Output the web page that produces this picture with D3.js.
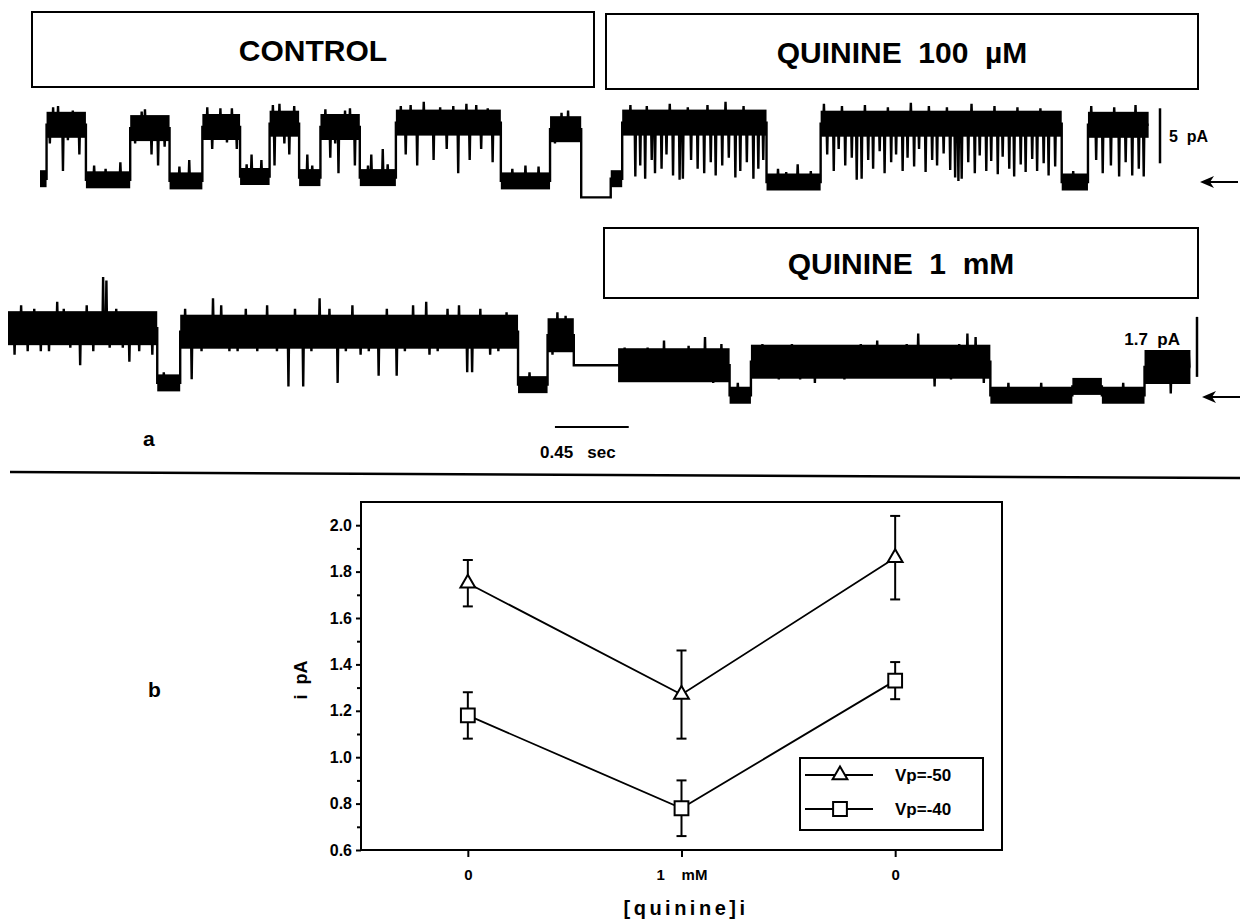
<!DOCTYPE html>
<html>
<head>
<meta charset="utf-8">
<script src="https://cdn.jsdelivr.net/npm/d3@7/dist/d3.min.js"></script>
<style>
body{margin:0;background:#fff;}
text{font-family:"Liberation Sans",Arial,Helvetica,sans-serif;font-weight:bold;fill:#000;}
</style>
</head>
<body>
<div id="fig"></div>
<script>
// ---- panel a : single channel records ----
// dwells: [start s, end s, level pA, state]  (o = open, c = closed, f = held / no noise)
const dwells1 = [
  [0.00,0.04,0.3,"c"],[0.04,0.28,5.2,"o"],[0.28,0.55,0.2,"c"],[0.55,0.79,4.9,"o"],
  [0.79,0.99,0.1,"c"],[0.99,1.22,5.0,"o"],[1.22,1.40,0.5,"c"],[1.40,1.58,5.3,"o"],
  [1.58,1.71,0.4,"c"],[1.71,1.95,5.0,"o"],[1.95,2.17,0.4,"c"],[2.17,2.81,5.4,"o"],
  [2.81,3.11,0.1,"c"],[3.11,3.30,4.8,"o"],[3.30,3.48,-1.4,"f"],[3.48,3.55,0.3,"c"],
  [3.55,4.43,5.4,"o"],[4.43,4.76,0.0,"c"],[4.76,6.23,5.3,"o"],[6.23,6.39,0.0,"c"],
  [6.39,6.76,5.2,"o"]
];
// brief events inside a dwell: [time s, peak pA]
const flicks1 = [
  [0.06,3.5],[0.08,6.8],[0.11,6.9],[0.14,1.0],[0.17,3.8],[0.20,6.5],[0.24,2.5],[0.33,1.5],
  [0.40,1.2],[0.49,1.8],[0.58,3.5],[0.62,6.4],[0.64,6.6],[0.68,2.5],[0.72,1.5],[0.76,3.2],
  [0.85,1.4],[0.91,2.0],[1.02,6.8],[1.05,3.0],[1.10,6.7],[1.14,3.6],[1.17,6.7],[1.20,3.0],
  [1.26,1.6],[1.29,2.5],[1.35,2.0],[1.42,7.0],[1.43,1.5],[1.46,7.1],[1.49,3.5],[1.52,2.5],
  [1.55,6.9],[1.63,2.5],[1.66,1.5],[1.74,6.6],[1.77,2.2],[1.80,3.5],[1.82,0.8],[1.86,6.5],
  [1.89,6.7],[1.92,1.5],[2.00,1.5],[2.02,2.5],[2.09,3.0],[2.12,1.6],[2.20,6.9],[2.23,2.5],
  [2.26,7.0],[2.30,1.5],[2.34,7.3],[2.40,2.0],[2.44,6.8],[2.48,3.0],[2.52,6.9],[2.55,0.8],
  [2.60,7.1],[2.62,2.0],[2.66,7.0],[2.69,3.0],[2.73,6.7],[2.76,1.8],[2.88,1.2],[2.96,1.5],
  [3.04,1.4],[3.14,3.5],[3.18,6.3],[3.22,6.5],[3.26,3.8],[3.51,1.0],
  [3.60,7.0],[3.63,0.5],[3.66,1.5],[3.69,0.3],[3.70,6.9],[3.73,2.0],[3.75,0.8],[3.79,1.2],
  [3.82,2.5],[3.84,7.1],[3.86,0.6],[3.90,0.2],[3.92,0.3],[3.95,6.8],[3.97,2.0],[4.01,1.2],
  [4.05,0.8],[4.07,7.0],[4.09,1.8],[4.12,0.6],[4.16,1.5],[4.18,7.3],[4.20,2.2],[4.24,0.4],
  [4.27,1.0],[4.29,6.9],[4.31,1.8],[4.35,0.3],[4.38,1.2],[4.41,2.0],[4.50,1.2],[4.55,0.9],
  [4.62,1.6],[4.70,1.0],[4.78,7.1],[4.80,2.5],[4.84,1.0],[4.87,3.0],[4.89,6.9],[4.91,1.5],
  [4.95,2.2],[4.98,0.2],[5.01,0.3],[5.03,7.0],[5.05,2.0],[5.08,1.2],[5.12,2.8],[5.15,0.8],
  [5.17,6.8],[5.19,1.8],[5.22,2.5],[5.26,1.0],[5.29,2.2],[5.31,7.2],[5.33,1.4],[5.36,3.0],
  [5.40,0.9],[5.42,6.9],[5.44,2.0],[5.47,1.5],[5.51,2.6],[5.53,6.8],[5.55,1.1],[5.58,0.4],
  [5.60,0.1],[5.62,0.3],[5.66,1.8],[5.68,7.1],[5.70,0.8],[5.73,2.4],[5.77,1.0],[5.80,1.9],
  [5.82,6.9],[5.84,0.7],[5.87,2.3],[5.91,1.2],[5.94,0.5],[5.96,6.8],[5.98,1.6],[6.01,0.9],
  [6.05,2.1],[6.08,1.0],[6.10,6.7],[6.12,1.7],[6.15,0.6],[6.19,1.4],[6.30,1.0],[6.41,6.9],
  [6.44,2.0],[6.48,0.8],[6.53,1.5],[6.55,6.8],[6.58,0.5],[6.62,1.8],[6.66,0.6],[6.68,7.0],
  [6.70,1.2],[6.73,0.5]
];

const dwells2 = [
  [0.00,0.91,1.95,"o"],[0.91,1.05,0.40,"c"],[1.05,3.11,1.85,"o"],[3.11,3.29,0.35,"c"],
  [3.29,3.45,1.75,"o"],[3.45,3.72,0.90,"f"],[3.72,4.40,0.90,"o"],[4.40,4.53,0.05,"c"],
  [4.53,5.99,1.00,"o"],[5.99,6.49,0.05,"c"],[6.49,6.67,0.30,"c"],[6.67,6.93,0.05,"c"],
  [6.93,7.21,0.85,"o"]
];
const flicks2 = [
  [0.04,1.2],[0.08,2.6],[0.12,1.3],[0.16,2.5],[0.20,1.3],[0.25,1.3],[0.30,2.7],[0.34,2.5],
  [0.38,1.4],[0.44,0.9],[0.48,2.6],[0.52,1.3],[0.58,3.4],[0.60,3.3],[0.62,1.4],[0.66,2.5],
  [0.70,1.4],[0.74,1.0],[0.80,1.3],[0.84,2.4],[0.88,1.2],[0.95,0.7],[1.08,2.5],[1.12,0.5],
  [1.18,1.3],[1.25,2.8],[1.30,2.6],[1.35,1.3],[1.40,1.3],[1.45,2.5],[1.52,1.3],[1.58,2.6],
  [1.64,1.3],[1.71,0.3],[1.75,2.5],[1.80,0.3],[1.85,1.3],[1.90,2.8],[1.96,2.5],[2.01,0.4],
  [2.06,1.3],[2.10,2.6],[2.15,1.2],[2.20,1.3],[2.26,0.6],[2.31,2.5],[2.37,0.6],[2.42,1.3],
  [2.47,2.6],[2.55,2.7],[2.57,1.2],[2.62,1.3],[2.68,2.5],[2.75,2.6],[2.80,0.7],[2.83,0.7],
  [2.88,2.5],[2.94,1.2],[2.99,1.3],[3.04,2.4],[3.18,0.7],[3.32,1.2],[3.35,2.4],[3.40,2.3],
  [3.76,1.4],[3.82,0.5],[3.90,1.4],[4.00,1.6],[4.10,0.5],[4.15,1.45],[4.25,1.7],[4.30,0.4],
  [4.35,1.5],[4.45,0.4],[4.60,1.5],[4.70,0.5],[4.78,1.5],[4.83,0.5],[4.92,0.4],[5.00,1.45],
  [5.10,0.5],[5.20,1.5],[5.30,1.6],[5.40,0.6],[5.48,1.5],[5.55,1.8],[5.65,0.3],[5.75,0.5],
  [5.80,1.5],[5.85,1.8],[5.90,1.7],[5.95,0.4],[6.10,0.4],[6.30,0.4],[6.80,0.4],[6.97,1.3],
  [7.02,0.4],[7.09,0.1],[7.15,1.3],[7.20,1.2]
];

const condLabels = ["CONTROL", "QUININE  100  \u00b5M", "QUININE  1  mM"];

// ---- panel b : unitary current vs [quinine]i ----
const concLabels = ["0", "1    mM", "0"];
const vp50 = [1.75, 1.27, 1.86];
const vp50err = [0.10, 0.19, 0.18];
const vp40 = [1.18, 0.78, 1.33];
const vp40err = [0.10, 0.12, 0.08];
const seriesNames = ["Vp=-50", "Vp=-40"];
const yMajor = [0.6, 0.8, 1.0, 1.2, 1.4, 1.6, 1.8, 2.0];
const yMinor = [0.7, 0.9, 1.1, 1.3, 1.5, 1.7, 1.9];

const W = 1240, H = 923;
const svg = d3.select("#fig").append("svg")
    .attr("width", W)
    .attr("height", H);

// condition boxes
const boxes = [
  {x0:32, x1:594, y0:12, y1:87},
  {x0:606, x1:1198, y0:14, y1:89},
  {x0:604, x1:1198, y0:228, y1:298}
];
boxes.forEach((b, i) => {
  svg.append("rect")
      .attr("x", b.x0).attr("y", b.y0)
      .attr("width", b.x1 - b.x0).attr("height", b.y1 - b.y0)
      .style("fill", "none").style("stroke", "#000").style("stroke-width", "2px");
  svg.append("text")
      .attr("x", (b.x0 + b.x1) / 2).attr("y", (b.y0 + b.y1) / 2 + 11)
      .attr("text-anchor", "middle")
      .style("font-size", "30px").style("white-space", "pre")
      .text(condLabels[i]);
});

function tracePoints(dw, fl) {
  const pts = [];
  const sorted = fl.slice().sort((a, b) => a[0] - b[0]);
  dw.forEach(d => {
    pts.push([d[0], d[2]]);
    sorted.filter(f => f[0] > d[0] && f[0] < d[1]).forEach(f => {
      pts.push([f[0] - 0.004, d[2]], [f[0], f[1]], [f[0] + 0.004, d[2]]);
    });
    pts.push([d[1], d[2]]);
  });
  return pts;
}

function drawTrace(dw, fl, xs, ys, band) {
  const g = svg.append("g");
  g.selectAll("rect.band")
      .data(dw.filter(d => d[3] !== "f"))
      .enter().append("rect")
      .attr("class", "band")
      .attr("x", d => xs(d[0]))
      .attr("width", d => xs(d[1]) - xs(d[0]))
      .attr("y", d => ys(d[2]) - band[d[3]] / 2)
      .attr("height", d => band[d[3]])
      .style("fill", "#000");
  const line = d3.line()
      .x(d => xs(d[0]))
      .y(d => ys(d[1]));
  g.append("path")
      .datum(tracePoints(dw, fl))
      .attr("d", line)
      .style("fill", "none")
      .style("stroke", "#000")
      .style("stroke-width", "2.4px");
}

function arrowLeft(x, y) {
  svg.append("line")
      .attr("x1", x + 3).attr("x2", x + 38).attr("y1", y).attr("y2", y)
      .style("stroke", "#000").style("stroke-width", "1.8px");
  svg.append("path")
      .attr("d", `M${x},${y} L${x + 14},${y - 6} L${x + 10},${y} L${x + 14},${y + 6} Z`)
      .style("fill", "#000");
}

// upper record: control then 100 uM
const x1 = d3.scaleLinear().domain([0, 6.76]).range([40, 40 + 6.76 * 164]);
const y1 = d3.scaleLinear().domain([0, 5]).range([182, 127]);
drawTrace(dwells1, flicks1, x1, y1, {o: 26, c: 17});

svg.append("line")
    .attr("x1", 1160).attr("x2", 1160)
    .attr("y1", y1(1.7)).attr("y2", y1(6.7))
    .style("stroke", "#000").style("stroke-width", "2.5px");
svg.append("text").attr("x", 1169).attr("y", 142)
    .style("font-size", "16px").style("white-space", "pre").text("5  pA");
arrowLeft(1200, 182);

// lower record: control then 1 mM
const x2 = d3.scaleLinear().domain([0, 7.21]).range([8, 8 + 7.21 * 164]);
const y2 = d3.scaleLinear().domain([0, 1.7]).range([397, 337]);
drawTrace(dwells2, flicks2, x2, y2, {o: 34, c: 17});

svg.append("line")
    .attr("x1", 1197).attr("x2", 1197)
    .attr("y1", y2(0.57)).attr("y2", y2(2.27))
    .style("stroke", "#000").style("stroke-width", "2.5px");
svg.append("text").attr("x", 1180).attr("y", 345)
    .attr("text-anchor", "end")
    .style("font-size", "17px").style("white-space", "pre").text("1.7  pA");
arrowLeft(1202, 397);

// time calibration
svg.append("line")
    .attr("x1", x2(3.335)).attr("x2", x2(3.335 + 0.45))
    .attr("y1", 427).attr("y2", 427)
    .style("stroke", "#000").style("stroke-width", "2px");
svg.append("text").attr("x", 540).attr("y", 458)
    .style("font-size", "17px").style("white-space", "pre").text("0.45   sec");
svg.append("text").attr("x", 143).attr("y", 446)
    .style("font-size", "21px").text("a");

// divider
svg.append("line")
    .attr("x1", 10).attr("x2", 1240).attr("y1", 472).attr("y2", 478)
    .style("stroke", "#000").style("stroke-width", "2.5px");

// ---- panel b ----
const x = d3.scaleLinear().domain([-0.5, 2.5]).range([361, 1002]);
const y = d3.scaleLinear().domain([0.6, 2.1]).range([850, 502]);

const gb = svg.append("g");
gb.append("rect")
    .attr("x", x(-0.5)).attr("y", y(2.1))
    .attr("width", x(2.5) - x(-0.5)).attr("height", y(0.6) - y(2.1))
    .style("fill", "none").style("stroke", "#000").style("stroke-width", "2px");

const yAxis = gb.append("g")
    .attr("transform", "translate(" + x(-0.5) + ",0)")
    .call(d3.axisLeft(y).tickValues(yMajor).tickFormat(d3.format(".1f")).tickSize(5).tickPadding(4));
gb.append("g")
    .attr("transform", "translate(" + x(-0.5) + ",0)")
    .call(d3.axisLeft(y).tickValues(yMinor).tickFormat("").tickSize(4));
const xAxis = gb.append("g")
    .attr("transform", "translate(0," + y(0.6) + ")")
    .call(d3.axisBottom(x).tickValues([0, 1, 2]).tickFormat(i => concLabels[i]).tickSize(7).tickPadding(12));
gb.selectAll(".domain").remove();
gb.selectAll(".tick line").style("stroke", "#000").style("stroke-width", "2px");
yAxis.attr("font-size", null).attr("font-family", null);
xAxis.attr("font-size", null).attr("font-family", null);
yAxis.selectAll("text").style("font-size", "16px");
xAxis.selectAll("text").style("font-size", "15px").style("white-space", "pre");

const series = [
  {v: vp50, e: vp50err, sym: d3.symbolTriangle, size: 95},
  {v: vp40, e: vp40err, sym: d3.symbolSquare, size: 190}
];
const line = d3.line()
    .x((d, i) => x(i))
    .y(d => y(d));

series.forEach(s => {
  gb.append("path")
      .datum(s.v)
      .attr("d", line)
      .style("fill", "none").style("stroke", "#000").style("stroke-width", "1.8px");
  s.v.forEach((v, i) => {
    const cx = x(i);
    const lo = y(v - s.e[i]), hi = y(v + s.e[i]);
    gb.append("line").attr("x1", cx).attr("x2", cx).attr("y1", lo).attr("y2", hi)
        .style("stroke", "#000").style("stroke-width", "2px");
    [lo, hi].forEach(yy => gb.append("line")
        .attr("x1", cx - 5).attr("x2", cx + 5).attr("y1", yy).attr("y2", yy)
        .style("stroke", "#000").style("stroke-width", "2px"));
  });
  gb.selectAll(null)
      .data(s.v)
      .enter().append("path")
      .attr("d", d3.symbol(s.sym, s.size))
      .attr("transform", (d, i) => "translate(" + x(i) + "," + y(d) + ")")
      .style("fill", "#fff").style("stroke", "#000").style("stroke-width", "2px");
});

// legend
const lg = gb.append("g");
lg.append("rect")
    .attr("x", 800).attr("y", 758).attr("width", 183).attr("height", 72)
    .style("fill", "#fff").style("stroke", "#000").style("stroke-width", "2px");
series.forEach((s, i) => {
  const ly = 775 + i * 34;
  lg.append("line").attr("x1", 805).attr("x2", 873).attr("y1", ly).attr("y2", ly)
      .style("stroke", "#000").style("stroke-width", "1.8px");
  lg.append("path")
      .attr("d", d3.symbol(s.sym, s.size))
      .attr("transform", "translate(840," + ly + ")")
      .style("fill", "#fff").style("stroke", "#000").style("stroke-width", "2px");
  lg.append("text").attr("x", 895).attr("y", ly + 6)
      .style("font-size", "17px").text(seriesNames[i]);
});

// axis titles and panel letter
svg.append("text")
    .attr("transform", "translate(307,680) rotate(-90)")
    .attr("text-anchor", "middle")
    .style("font-size", "18px").style("white-space", "pre")
    .text("i  pA");
svg.append("text").attr("x", 148).attr("y", 697)
    .style("font-size", "21px").text("b");
svg.append("text")
    .attr("x", 686).attr("y", 915)
    .attr("text-anchor", "middle")
    .style("font-size", "20px").style("letter-spacing", "3.5px")
    .text("[quinine]i");
</script>
</body>
</html>
